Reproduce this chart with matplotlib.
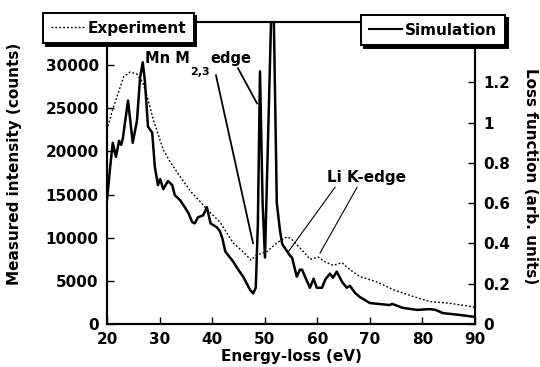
import matplotlib
matplotlib.use("Agg")
import matplotlib.pyplot as plt
from matplotlib.lines import Line2D

plt.rcParams['font.family'] = ['DejaVu Sans']
plt.rcParams['font.weight'] = 'bold'

# Experiment (dotted, left axis: counts)
exp_e = [20, 21.1, 23.2, 24.4, 25.7, 26.8, 27.8, 28.8, 30.7, 32, 34, 36, 37.7, 39,
         41.5, 44, 46, 47.4, 48.5, 50.4, 52.3, 54.2, 55, 56.1, 57.5, 58.6, 60.2,
         61.5, 63, 64.7, 66.2, 68.1, 71.3, 74.4, 78.2, 81.4, 85.2, 90]
exp_counts = [22500, 24900, 28700, 29200, 28960, 28000, 26000, 23700, 20200, 18800,
              17000, 15300, 14200, 13300, 11800, 9400, 8300, 7400, 8000, 8370, 9400,
              10100, 9900, 9200, 8300, 7500, 7750, 7200, 6800, 7100, 6300, 5500, 4880,
              4000, 3200, 2600, 2400, 1950]

# Simulation (solid, right axis: loss function)
sim_e = [20, 20.6, 21.1, 21.7, 22.3, 22.7, 23.0, 24.0, 24.9, 25.7, 26.3, 26.8, 27.2,
         27.8, 28.6, 29.1, 29.7, 30.1, 30.7, 31.6, 32.4, 32.9, 33.9, 34.8, 35.5, 36.2,
         36.7, 37.3, 38.3, 39.0, 39.7, 40.9, 41.5, 42.0, 42.5, 43.4, 44.0, 44.7, 45.9,
         47.2, 47.8, 48.3, 48.7, 49.1, 49.6, 50.05, 51.35, 51.5, 51.65, 52.3, 52.9,
         53.3, 53.5, 54.8, 55.2, 56.1, 56.7, 57.1, 57.7, 58.6, 59.3, 59.9, 60.9, 61.5,
         62.4, 63.0, 63.7, 64.7, 65.6, 66.2, 67.2, 68.1, 70, 71.9, 73.8, 74.2, 76.3,
         79, 81.4, 82.5, 83.9, 87.1, 90]
sim_loss = [0.615, 0.78, 0.90, 0.83, 0.91, 0.89, 0.92, 1.11, 0.90, 1.01, 1.225, 1.30,
            1.21, 0.98, 0.95, 0.78, 0.69, 0.72, 0.67, 0.71, 0.69, 0.64, 0.615, 0.58,
            0.55, 0.506, 0.50, 0.53, 0.54, 0.58, 0.50, 0.48, 0.46, 0.42, 0.36, 0.33,
            0.31, 0.28, 0.235, 0.17, 0.152, 0.18, 0.5, 1.255, 0.6, 0.33, 1.65, 3.0,
            1.65, 0.6, 0.466, 0.40, 0.39, 0.34, 0.33, 0.235, 0.27, 0.27, 0.233, 0.18,
            0.225, 0.18, 0.18, 0.22, 0.25, 0.23, 0.26, 0.21, 0.18, 0.19, 0.154, 0.134,
            0.104, 0.099, 0.094, 0.10, 0.08, 0.07, 0.074, 0.07, 0.054, 0.045, 0.035]

x_ticks = [20, 30, 40, 50, 60, 70, 80, 90]
left_ticks = [0, 5000, 10000, 15000, 20000, 25000, 30000]
right_ticks = [0, 0.2, 0.4, 0.6, 0.8, 1.0, 1.2]
right_labels = ['0', '0.2', '0.4', '0.6', '0.8', '1', '1.2']

# annotation pointer lines (energy, loss-function units)
mn_lines = [((40.73, 1.235), (47.77, 0.402)), ((44.92, 1.27), (48.53, 1.096))]
li_lines = [((63.37, 0.679), (54.43, 0.357)), ((67.56, 0.679), (60.52, 0.352))]

fig = plt.figure(figsize=(5.4, 3.67), dpi=100)
ax = fig.add_axes([107/540, 1-324/367, 368/540, 302/367])
ax2 = ax.twinx()

ax.plot(exp_e, exp_counts, color='k', lw=1.0, ls=(0, (1.3, 1.5)))
ax2.plot(sim_e, sim_loss, color='k', lw=1.8)

ax.set_xlim(20, 90)
ax.set_ylim(0, 35000)
ax2.set_ylim(0, 1.5)
ax.set_xticks(x_ticks)
ax.set_yticks(left_ticks)
ax2.set_yticks(right_ticks)
ax2.set_yticklabels(right_labels)

for a in (ax, ax2):
    for s in a.spines.values():
        s.set_linewidth(1.5)
ax.tick_params(axis='both', direction='in', length=5, width=1, labelsize=11)
ax.tick_params(axis='x', pad=6)
ax.tick_params(axis='y', pad=6)
ax2.tick_params(axis='y', direction='in', length=5, width=1, labelsize=11, pad=6)

ax.set_xlabel('Energy-loss (eV)', fontsize=11, fontweight='bold', labelpad=1)
ax.set_ylabel('Measured intensity (counts)', fontsize=11, fontweight='bold')
ax.yaxis.set_label_coords(-0.23, 0.53)
ax2.set_ylabel('Loss function (arb. units)', fontsize=11, fontweight='bold', rotation=270, va='center')
ax2.yaxis.set_label_coords(1.15, 0.49)

for (p0, p1) in mn_lines:
    ax2.plot([p0[0], p1[0]], [p0[1], p1[1]], color='k', lw=1.3)
for (p0, p1) in li_lines:
    ax2.plot([p0[0], p1[0]], [p0[1], p1[1]], color='k', lw=0.8)

ax2.text(27.2, 1.294, 'Mn M', fontsize=10.5, fontweight='bold', ha='left', va='baseline')
ax2.text(35.8, 1.235, '2,3', fontsize=8, fontweight='bold', ha='left', va='baseline')
ax2.text(39.6, 1.294, 'edge', fontsize=10.5, fontweight='bold', ha='left', va='baseline')
ax2.text(61.85, 0.704, 'Li K-edge', fontsize=11, fontweight='bold', ha='left', va='baseline')

h_exp = Line2D([], [], color='k', lw=1.0, ls=(0, (1.3, 1.5)))
h_sim = Line2D([], [], color='k', lw=1.5)
common = dict(frameon=True, fancybox=False, edgecolor='k', framealpha=1,
              shadow={'color': 'k', 'alpha': 1}, borderaxespad=0,
              prop={'size': 11, 'weight': 'bold'}, handlelength=2.2,
              handletextpad=0.2, borderpad=0.5)
leg1 = fig.legend([h_exp], ['Experiment'], loc='upper left',
                  bbox_to_anchor=(43/540, 1-13/367), **common)
leg1.get_frame().set_linewidth(1.4)
leg2 = fig.legend([h_sim], ['Simulation'], loc='upper right',
                  bbox_to_anchor=(505/540, 1-15/367), **common)
leg2.get_frame().set_linewidth(1.4)

fig.savefig('out.png', dpi=100)
